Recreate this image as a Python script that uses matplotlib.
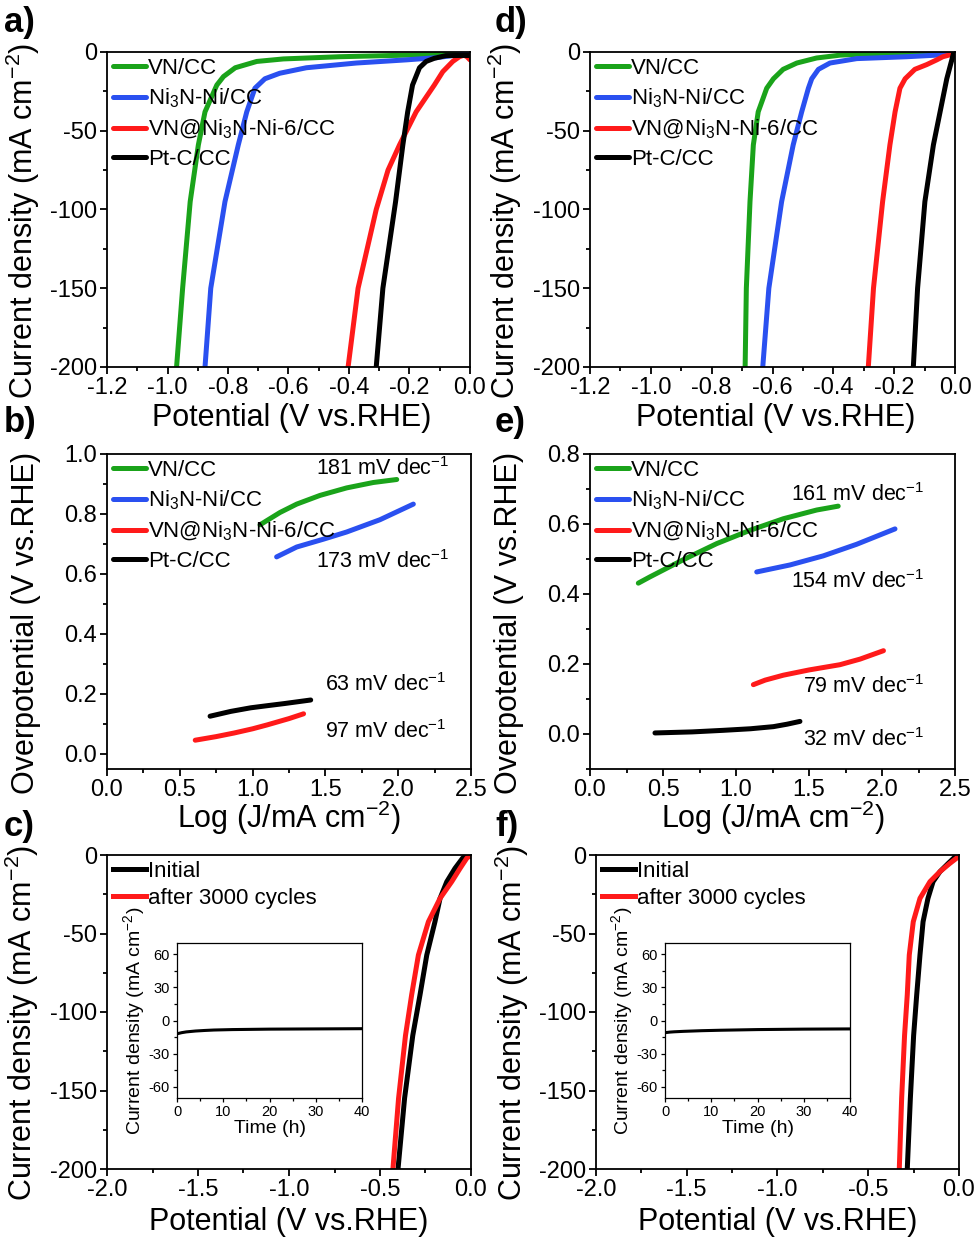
import matplotlib
matplotlib.use("Agg")
import matplotlib.pyplot as plt
from matplotlib.ticker import MultipleLocator

plt.rcParams['font.family'] = ['Liberation Sans', 'DejaVu Sans']
plt.rcParams['mathtext.fontset'] = 'custom'
plt.rcParams['mathtext.rm'] = 'Liberation Sans'
plt.rcParams['mathtext.it'] = 'Liberation Sans'
plt.rcParams['axes.unicode_minus'] = False

GREEN, BLUE, RED, BLACK = '#1aa31a', '#2a50f0', '#ff1a1a', '#000000'
LABELS = ['VN/CC', 'Ni$_3$N-Ni/CC', 'VN@Ni$_3$N-Ni-6/CC', 'Pt-C/CC']

# ---- panel a (LSV, 1) ----
a_vn_E = [0.0, -0.05, -0.21, -0.431, -0.617, -0.705, -0.776, -0.815, -0.837, -0.876, -0.898, -0.925, -0.95, -0.97]
a_vn_j = [-1, -1.3, -2, -3, -4.4, -6, -10, -15.6, -21, -38, -59, -95, -150, -200]
a_ni_E = [0.0, -0.046, -0.112, -0.211, -0.376, -0.541, -0.629, -0.678, -0.711, -0.738, -0.766, -0.81, -0.857, -0.876]
a_ni_j = [-1, -2, -3.6, -5, -7, -10, -13.5, -17, -23, -38, -59, -95, -150, -200]
a_vnni_E = [0.0, -0.01, -0.02, -0.035, -0.057, -0.09, -0.118, -0.178, -0.233, -0.271, -0.31, -0.37, -0.403]
a_vnni_j = [-5, -3, -2, -3, -6, -12.5, -21, -38, -59, -75, -100, -150, -200]
a_pt_E = [0.0, -0.04, -0.08, -0.118, -0.145, -0.167, -0.19, -0.206, -0.222, -0.246, -0.288, -0.31]
a_pt_j = [-2.2, -2.2, -2.3, -4, -6, -10, -21, -38, -59, -95, -150, -200]

# ---- panel d (LSV, 2) ----
d_vn_E = [0.0, -0.268, -0.378, -0.455, -0.52, -0.565, -0.597, -0.619, -0.647, -0.663, -0.674, -0.686, -0.69]
d_vn_j = [0, -1, -2, -3.8, -7, -11, -17, -23, -38, -59, -95, -150, -200]
d_ni_E = [0.0, -0.06, -0.159, -0.323, -0.411, -0.449, -0.471, -0.482, -0.504, -0.532, -0.57, -0.612, -0.632]
d_ni_j = [0, -2, -3, -4.2, -7, -11, -17, -23, -38, -59, -95, -150, -200]
d_vnni_E = [0.0, -0.011, -0.04, -0.06, -0.093, -0.132, -0.164, -0.181, -0.197, -0.214, -0.238, -0.268, -0.285]
d_vnni_j = [0, -1.5, -3, -5, -8, -11, -17, -23, -38, -59, -95, -150, -200]
d_pt_E = [0.0, -0.005, -0.027, -0.049, -0.071, -0.099, -0.123, -0.137]
d_pt_j = [0, -1, -17, -38, -59, -95, -150, -200]

# ---- panel b (Tafel, 1) ----
b_vn_x = [1.051, 1.188, 1.303, 1.463, 1.646, 1.829, 1.99]
b_vn_y = [0.764, 0.805, 0.833, 0.862, 0.887, 0.905, 0.915]
b_ni_x = [1.165, 1.303, 1.486, 1.646, 1.875, 2.104]
b_ni_y = [0.657, 0.690, 0.716, 0.740, 0.781, 0.833]
b_vnni_x = [0.606, 0.75, 0.873, 1.0, 1.10, 1.25, 1.35]
b_vnni_y = [0.046, 0.058, 0.070, 0.084, 0.097, 0.118, 0.134]
b_pt_x = [0.708, 0.85, 0.987, 1.1, 1.216, 1.399]
b_pt_y = [0.126, 0.142, 0.154, 0.161, 0.168, 0.180]
b_slopes = ['181', '173', '97', '63']

# ---- panel e (Tafel, 2) ----
e_vn_x = [0.331, 0.411, 0.639, 0.868, 1.096, 1.324, 1.553, 1.70]
e_vn_y = [0.431, 0.449, 0.498, 0.544, 0.582, 0.615, 0.640, 0.651]
e_ni_x = [1.142, 1.37, 1.598, 1.826, 2.089]
e_ni_y = [0.463, 0.483, 0.509, 0.542, 0.586]
e_vnni_x = [1.119, 1.2, 1.324, 1.5, 1.712, 1.85, 2.01]
e_vnni_y = [0.141, 0.154, 0.168, 0.183, 0.198, 0.214, 0.238]
e_pt_x = [0.445, 0.7, 0.913, 1.1, 1.256, 1.35, 1.438]
e_pt_y = [0.003, 0.006, 0.0105, 0.015, 0.021, 0.028, 0.036]
e_slopes = ['161', '154', '79', '32']

# ---- panel c / f (stability) ----
c_init_E = [0.0, -0.023, -0.046, -0.088, -0.133, -0.17, -0.198, -0.243, -0.28, -0.32, -0.365, -0.401]
c_init_j = [-1, 0, -2, -8.5, -17, -27.6, -42.5, -63.7, -89, -115, -155, -200]
c_after_E = [0.0, -0.005, -0.023, -0.06, -0.106, -0.17, -0.234, -0.289, -0.326, -0.36, -0.398, -0.429]
c_after_j = [0, -0.5, -2, -8.5, -17, -27.6, -42.5, -63.7, -89, -115, -155, -200]
f_init_E = [0.0, -0.02, -0.059, -0.105, -0.143, -0.171, -0.198, -0.215, -0.233, -0.25, -0.268, -0.285]
f_init_j = [0, -1, -5.3, -10.6, -17, -27.6, -42.5, -63.7, -89, -115, -155, -200]
f_after_E = [0.0, -0.013, -0.05, -0.105, -0.16, -0.215, -0.252, -0.274, -0.285, -0.3, -0.316, -0.329]
f_after_j = [0, -2, -5.3, -10.6, -17, -27.6, -42.5, -63.7, -89, -115, -155, -200]
inset_t = [0, 1, 2, 4, 6, 8, 12, 16, 20, 25, 30, 35, 40]
c_inset_j = [-12, -11, -10.3, -9.5, -9, -8.6, -8.2, -8, -7.8, -7.7, -7.6, -7.5, -7.4]
f_inset_j = [-11, -10.5, -10.2, -9.8, -9.5, -9.2, -8.8, -8.5, -8.2, -8, -7.8, -7.7, -7.6]
STAB_LABELS = ['Initial', 'after 3000 cycles']

W, H = 978, 1240
fig = plt.figure(figsize=(W / 100, H / 100), dpi=100)


def box(l, t, r, b):
    return [l / W, 1 - b / H, (r - l) / W, (b - t) / H]


LW = 3.6
TICK_FS = 17
LAB_FS = 22
LEG_FS = 16
SUP = '$^{\\mathrm{-}2}$'


def style(ax, xmaj, xmin, ymaj, ymin, fs=TICK_FS, lw=1.3, ml=5, mn=3):
    ax.xaxis.set_major_locator(MultipleLocator(xmaj))
    ax.xaxis.set_minor_locator(MultipleLocator(xmin))
    ax.yaxis.set_major_locator(MultipleLocator(ymaj))
    ax.yaxis.set_minor_locator(MultipleLocator(ymin))
    ax.tick_params(which='both', direction='out', top=False, right=False, labelsize=fs, width=lw)
    ax.tick_params(which='major', length=ml, pad=2)
    ax.tick_params(which='minor', length=mn)
    for s in ax.spines.values():
        s.set_linewidth(lw)


def legend(ax, fs=LEG_FS, spacing=0.35):
    ax.legend(loc='upper left', bbox_to_anchor=(0.0, 1.0), frameon=False, fontsize=fs,
              handlelength=1.5, handletextpad=0.1, labelspacing=spacing, borderaxespad=0.0,
              borderpad=0.25)


def lsv_panel(rect, series, xlim):
    ax = fig.add_axes(rect)
    for (E, j), c, lab in zip(series, [GREEN, BLUE, RED, BLACK], LABELS):
        ax.plot(E, j, color=c, lw=LW, label=lab, solid_capstyle='round', solid_joinstyle='round')
    ax.set_xlim(*xlim)
    ax.set_ylim(-200, 0)
    style(ax, 0.2, 0.1, 50, 25)
    ax.set_xlabel('Potential (V vs.RHE)', fontsize=LAB_FS)
    ax.set_ylabel('Current density (mA cm' + SUP + ')', fontsize=LAB_FS)
    ax.xaxis.set_label_coords(0.51, -0.115)
    ax.yaxis.set_label_coords(-0.18, 0.465)
    legend(ax)
    return ax


def tafel_panel(rect, series, ylim, ymaj, slopes, slope_pos):
    ax = fig.add_axes(rect)
    for (x, y), c, lab in zip(series, [GREEN, BLUE, RED, BLACK], LABELS):
        ax.plot(x, y, color=c, lw=LW, label=lab, solid_capstyle='round', solid_joinstyle='round')
    ax.set_xlim(0, 2.5)
    ax.set_ylim(*ylim)
    style(ax, 0.5, 0.25, ymaj, ymaj / 2)
    ax.set_xlabel('Log (J/mA cm' + SUP + ')', fontsize=LAB_FS)
    ax.set_ylabel('Overpotential (V vs.RHE)', fontsize=LAB_FS)
    ax.xaxis.set_label_coords(0.5, -0.095)
    ax.yaxis.set_label_coords(-0.18, 0.465)
    for s, (px, py) in zip(slopes, slope_pos):
        ax.text(px, py, s + ' mV dec$^{\\mathrm{-}1}$', fontsize=15.5, ha='right', va='center')
    legend(ax)
    return ax


def stab_panel(rect, inset_rect, init, after, inset_j):
    ax = fig.add_axes(rect)
    ax.plot(init[0], init[1], color=BLACK, lw=LW, label=STAB_LABELS[0], solid_joinstyle='round')
    ax.plot(after[0], after[1], color=RED, lw=LW, label=STAB_LABELS[1], solid_joinstyle='round')
    ax.set_xlim(-2.0, 0.0)
    ax.set_ylim(-200, 0)
    style(ax, 0.5, 0.25, 50, 25)
    ax.set_xlabel('Potential (V vs.RHE)', fontsize=LAB_FS)
    ax.set_ylabel('Current density (mA cm' + SUP + ')', fontsize=LAB_FS)
    ax.xaxis.set_label_coords(0.5, -0.12)
    ax.yaxis.set_label_coords(-0.18, 0.465)
    legend(ax, spacing=0.3)
    ins = fig.add_axes(inset_rect)
    ins.plot(inset_t, inset_j, color=BLACK, lw=2.2)
    ins.set_xlim(0, 40)
    ins.set_ylim(-70, 70)
    style(ins, 10, 5, 30, 15, fs=10.5, lw=0.9, ml=3, mn=2)
    ins.set_xlabel('Time (h)', fontsize=14, labelpad=1)
    ins.set_ylabel('Current density (mA cm' + SUP + ')', fontsize=14, labelpad=1)
    return ax


lsv_panel(box(107, 52, 470, 367),
          [(a_vn_E, a_vn_j), (a_ni_E, a_ni_j), (a_vnni_E, a_vnni_j), (a_pt_E, a_pt_j)], (-1.2, 0.0))
lsv_panel(box(590, 52, 955, 367),
          [(d_vn_E, d_vn_j), (d_ni_E, d_ni_j), (d_vnni_E, d_vnni_j), (d_pt_E, d_pt_j)], (-1.2, 0.0))

tafel_panel(box(107, 454, 471, 769),
            [(b_vn_x, b_vn_y), (b_ni_x, b_ni_y), (b_vnni_x, b_vnni_y), (b_pt_x, b_pt_y)],
            (-0.05, 1.0), 0.2, b_slopes,
            [(2.35, 0.952), (2.35, 0.643), (2.33, 0.075), (2.33, 0.232)])
tafel_panel(box(590, 454, 955, 769),
            [(e_vn_x, e_vn_y), (e_ni_x, e_ni_y), (e_vnni_x, e_vnni_y), (e_pt_x, e_pt_y)],
            (-0.1, 0.8), 0.2, e_slopes,
            [(2.29, 0.685), (2.29, 0.436), (2.29, 0.135), (2.29, -0.016)])

stab_panel(box(107, 855, 471, 1169), box(177, 943, 362, 1098),
           (c_init_E, c_init_j), (c_after_E, c_after_j), c_inset_j)
stab_panel(box(596, 855, 959, 1169), box(665, 943, 850, 1098),
           (f_init_E, f_init_j), (f_after_E, f_after_j), f_inset_j)

for lab, x, y in [('a)', 4, 32), ('b)', 4, 432), ('c)', 4, 836),
                  ('d)', 495, 32), ('e)', 495, 432), ('f)', 495, 836)]:
    fig.text(x / W, 1 - y / H, lab, fontsize=25, fontweight='bold', ha='left', va='baseline')

fig.savefig('out.png', dpi=100)
